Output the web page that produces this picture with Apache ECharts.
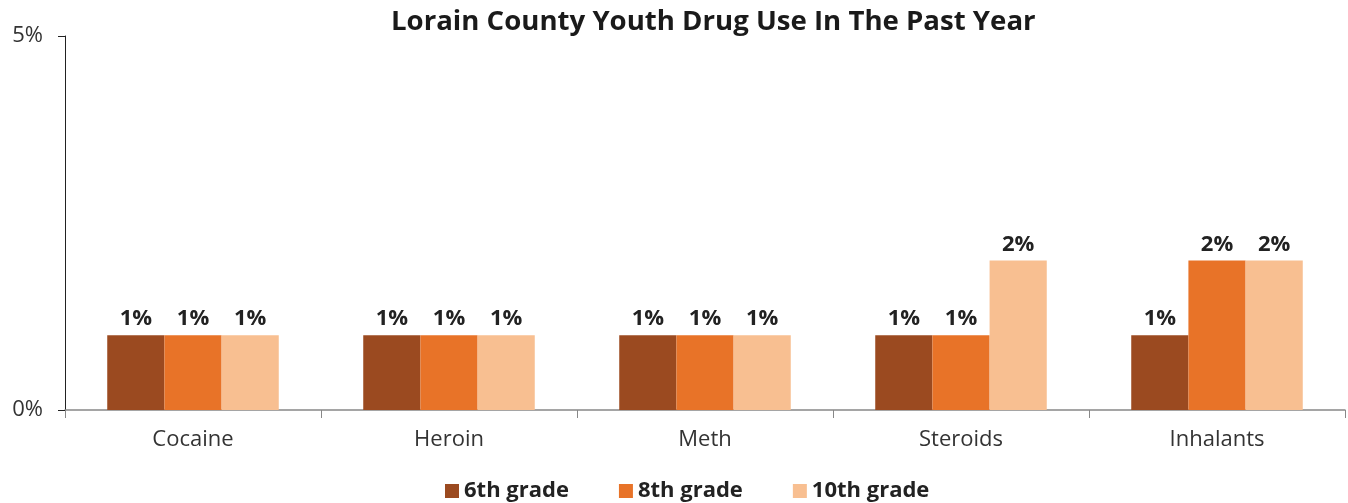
<!DOCTYPE html>
<html>
<head>
<meta charset="utf-8">
<script src="https://cdn.jsdelivr.net/npm/echarts@6/dist/echarts.min.js"></script>
<style>
  html, body { margin: 0; padding: 0; background: #fff; }
  #chart { width: 1348px; height: 503px; }
</style>
</head>
<body>
<div id="chart"></div>
<script>
const categories = ['Cocaine', 'Heroin', 'Meth', 'Steroids', 'Inhalants'];
const grade6 = [1, 1, 1, 1, 1];
const grade8 = [1, 1, 1, 1, 2];
const grade10 = [1, 1, 1, 2, 2];

const font = '"Open Sans", "Noto Sans", sans-serif';

const chart = echarts.init(document.getElementById('chart'));

const barLabel = {
  show: true,
  position: 'top',
  distance: 5,
  formatter: p => p.value + '%',
  fontFamily: font,
  fontWeight: 'bold',
  fontSize: 22,
  color: '#222'
};

const makeSeries = (name, data, color) => ({
  name: name,
  type: 'bar',
  data: data,
  barGap: '0%',
  barCategoryGap: '33%',
  itemStyle: { color: color },
  label: barLabel
});

const option = {
  animation: false,
  title: {
    text: 'Lorain County Youth Drug Use In The Past Year',
    left: 386,
    top: 3,
    textStyle: { fontFamily: font, fontWeight: 'bold', fontSize: 27.6, color: '#1a1a1a' }
  },
  legend: {
    top: 475,
    left: 440,
    itemWidth: 14,
    itemHeight: 14,
    itemGap: 50,
    icon: 'rect',
    textStyle: { fontFamily: font, fontWeight: 'bold', fontSize: 22, color: '#222' },
    data: ['6th grade', '8th grade', '10th grade']
  },
  grid: { left: 65, right: 3, top: 36, bottom: 93 },
  xAxis: {
    type: 'category',
    data: categories,
    axisLine: { lineStyle: { color: '#888', width: 1.5 } },
    axisTick: { show: true, length: 8, lineStyle: { color: '#888' } },
    axisLabel: { fontFamily: font, fontSize: 22, color: '#333', margin: 19 }
  },
  yAxis: {
    type: 'value',
    min: 0,
    max: 5,
    interval: 5,
    axisLine: { show: true, lineStyle: { color: '#222' } },
    axisTick: { show: true, length: 7, lineStyle: { color: '#222' } },
    splitLine: { show: false },
    axisLabel: { fontFamily: font, fontSize: 22, color: '#333', margin: 22, formatter: '{value}%' }
  },
  series: [
    makeSeries('6th grade', grade6, '#9B4A20'),
    makeSeries('8th grade', grade8, '#E87328'),
    makeSeries('10th grade', grade10, '#F8BF91')
  ]
};

chart.setOption(option);
</script>
</body>
</html>
